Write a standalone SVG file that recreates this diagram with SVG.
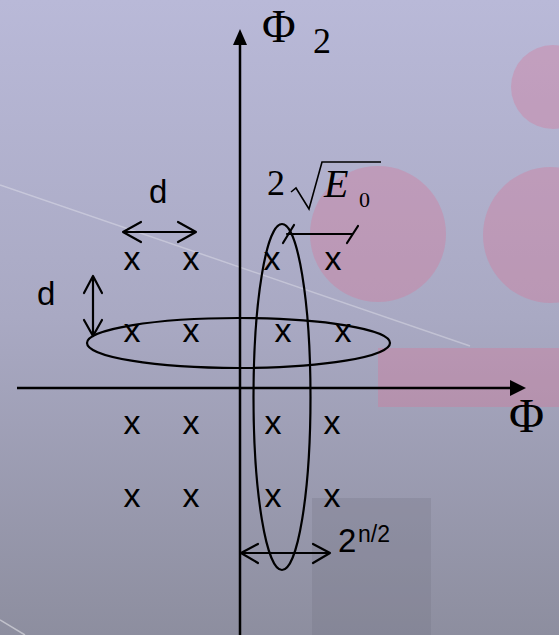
<svg xmlns="http://www.w3.org/2000/svg" width="559" height="635" viewBox="0 0 559 635">
<defs>
<linearGradient id="bg" x1="0" y1="0" x2="0" y2="1">
<stop offset="0" stop-color="#b9b9d8"/>
<stop offset="0.5" stop-color="#a9a9c3"/>
<stop offset="1" stop-color="#8d8e9f"/>
</linearGradient>
<style>
.pink{fill:#d47a9a;fill-opacity:0.38}
.ln{stroke:#000;stroke-width:2.2;fill:none;stroke-linecap:round;stroke-linejoin:round}
.ax{stroke:#000;stroke-width:2.5;fill:none}
.sans{font-family:"Liberation Sans",Arial,sans-serif;fill:#000}
.serif{font-family:"Liberation Serif","Times New Roman",serif;fill:#000}
.mk{font-family:"Liberation Sans",Arial,sans-serif;font-size:34px;text-anchor:middle;fill:#000}
</style>
</defs>
<g id="background">
<rect x="0" y="0" width="559" height="635" fill="url(#bg)"/>
<circle class="pink" cx="553" cy="87" r="42"/>
<circle class="pink" cx="378" cy="234" r="68"/>
<circle class="pink" cx="551" cy="235" r="68"/>
<rect class="pink" x="378" y="348" width="181" height="59"/>
<rect x="312" y="498" width="119" height="137" fill="#6e6e7e" fill-opacity="0.25"/>
<path d="M0,185 L470,346" stroke="#ffffff" stroke-opacity="0.3" stroke-width="1.5"/>
<path d="M0,620 L25,635" stroke="#ffffff" stroke-opacity="0.45" stroke-width="1.5"/>
</g>
<g id="axes">
<line class="ax" x1="240" y1="635" x2="240" y2="44"/>
<polygon points="240,29 233,45 247,45" fill="#000"/>
<line class="ax" x1="17" y1="388" x2="511" y2="388"/>
<polygon points="526,388 510,380 510,396" fill="#000"/>
</g>
<g id="axis-labels">
<text class="serif" x="262" y="42" font-size="46">Φ</text>
<text class="serif" x="313" y="53" font-size="36">2</text>
<text class="serif" x="509" y="432" font-size="48">Φ</text>
</g>
<g id="points">
<text class="mk" x="132" y="270">x</text>
<text class="mk" x="191" y="270">x</text>
<text class="mk" x="272" y="270">x</text>
<text class="mk" x="333" y="270">x</text>
<text class="mk" x="132" y="342">x</text>
<text class="mk" x="191" y="342">x</text>
<text class="mk" x="283" y="342">x</text>
<text class="mk" x="343" y="342">x</text>
<text class="mk" x="132" y="434">x</text>
<text class="mk" x="191" y="434">x</text>
<text class="mk" x="273" y="434">x</text>
<text class="mk" x="332" y="434">x</text>
<text class="mk" x="132" y="507">x</text>
<text class="mk" x="191" y="507">x</text>
<text class="mk" x="273" y="507">x</text>
<text class="mk" x="332" y="507">x</text>
</g>
<g id="ellipses">
<ellipse class="ln" cx="238.5" cy="343" rx="151.5" ry="25"/>
<ellipse class="ln" cx="282" cy="397" rx="28.5" ry="173"/>
</g>
<g id="connectors">
<path class="ln" d="M123,232 L196,232 M141,222 L123,232 L141,242 M178,222 L196,232 L178,242"/>
<path class="ln" d="M93,276 L93,336 M84,293 L93,276 L102,293 M84,320 L93,336 L102,320"/>
<path class="ln" d="M241,553 L330,553 M258,544 L241,553 L258,563 M313,544 L330,553 L313,563"/>
<path class="ln" d="M287,234 L352,234 M294,225 L283,243 M358,226 L347,243"/>
</g>
<g id="labels">
<text class="sans" x="149" y="203" font-size="33">d</text>
<text class="sans" x="37" y="305" font-size="33">d</text>
<text class="sans" x="338" y="552" font-size="33">2</text>
<text class="sans" x="358" y="542" font-size="23">n/2</text>
<text class="serif" x="267" y="195" font-size="36">2</text>
<path d="M291,192 L296,188 L309,209 L322,162 L381,162" stroke="#000" stroke-width="1.6" fill="none"/>
<text class="serif" x="324" y="197" font-size="40" font-style="italic">E</text>
<text class="serif" x="359" y="207" font-size="22">0</text>
</g>
</svg>
